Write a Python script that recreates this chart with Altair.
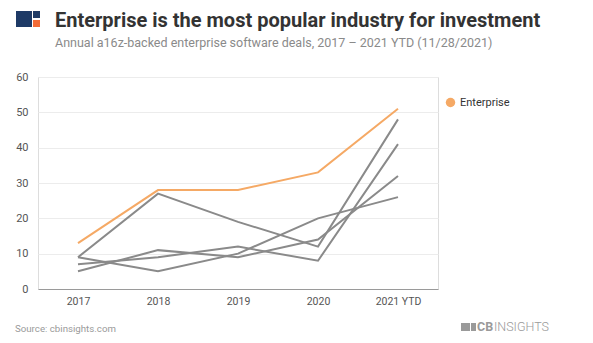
import altair as alt
import pandas as pd

years = ["2017", "2018", "2019", "2020", "2021 YTD"]
enterprise = [13, 28, 28, 33, 51]
other_a = [9, 27, 19, 12, 48]
other_b = [9, 5, 10, 20, 26]
other_c = [7, 9, 12, 8, 41]
other_d = [5, 11, 9, 14, 32]

series = {"Other A": other_a, "Other B": other_b, "Other C": other_c,
          "Other D": other_d, "Enterprise": enterprise}
rows = []
for name, vals in series.items():
    for y, v in zip(years, vals):
        rows.append({"year": y, "deals": v, "series": name})
df = pd.DataFrame(rows)

FONT = "Roboto"
ORANGE = "#f5a965"
GRAY = "#8a8a8a"

lines = alt.Chart(df).mark_line(strokeWidth=2).encode(
    x=alt.X("year:N", sort=years, title=None,
            scale=alt.Scale(type="point", padding=0.5),
            axis=alt.Axis(labelAngle=0, ticks=False, domainColor="#9a9a9a",
                          labelColor="#555", labelFont=FONT, labelFontSize=10.5,
                          labelPadding=7, grid=False)),
    y=alt.Y("deals:Q", title=None, scale=alt.Scale(domain=[0, 60]),
            axis=alt.Axis(values=[0, 10, 20, 30, 40, 50, 60], ticks=False, domain=False,
                          gridColor="#ececec", labelColor="#555", labelFont=FONT,
                          labelFontSize=11, labelPadding=10)),
    color=alt.Color("series:N",
                    scale=alt.Scale(domain=["Enterprise", "Other A", "Other B", "Other C", "Other D"],
                                    range=[ORANGE, GRAY, GRAY, GRAY, GRAY]),
                    legend=alt.Legend(values=["Enterprise"], title=None, orient="none",
                                      legendX=407, legendY=20, symbolType="circle",
                                      symbolSize=90, symbolStrokeWidth=0,
                                      symbolFillColor=ORANGE, symbolOpacity=1,
                                      labelFont=FONT, labelFontSize=11, labelColor="#333")),
    order=alt.Order("series:N", sort="descending"),
)

one = pd.DataFrame({"k": [0]})
title = alt.Chart(one).mark_text(align="left", baseline="alphabetic", font=FONT,
                                 fontSize=20, fontWeight="bold", color="#333").encode(
    x=alt.value(17), y=alt.value(-50),
    text=alt.value("Enterprise is the most popular industry for investment"))
subtitle = alt.Chart(one).mark_text(align="left", baseline="alphabetic", font=FONT,
                                    fontSize=12.5, color="#8a8a8a").encode(
    x=alt.value(17), y=alt.value(-30),
    text=alt.value("Annual a16z-backed enterprise software deals, 2017 – 2021 YTD (11/28/2021)"))
source = alt.Chart(one).mark_text(align="left", baseline="middle", font=FONT,
                                  fontSize=9.7, color="#9a9a9a").encode(
    x=alt.value(-23), y=alt.value(252), text=alt.value("Source: cbinsights.com"))
cb1 = alt.Chart(one).mark_text(align="left", baseline="middle", font=FONT,
                               fontSize=12.5, fontWeight="bold", color="#9a9a9a").encode(
    x=alt.value(439), y=alt.value(250), text=alt.value("CB"))
cb2 = alt.Chart(one).mark_text(align="left", baseline="middle", font=FONT,
                               fontSize=12.5, fontWeight=300, color="#9a9a9a").encode(
    x=alt.value(456), y=alt.value(250), text=alt.value("INSIGHTS"))
cbicon1 = alt.Chart(one).mark_rect(color="#9a9a9a").encode(
    x=alt.value(423), x2=alt.value(432), y=alt.value(246), y2=alt.value(254))
cbicon2 = alt.Chart(one).mark_rect(color="#9a9a9a").encode(
    x=alt.value(433), x2=alt.value(438), y=alt.value(246), y2=alt.value(254))

logo1 = alt.Chart(one).mark_rect(color="#1e3a66").encode(
    x=alt.value(-22), x2=alt.value(-6), y=alt.value(-66), y2=alt.value(-50))
logo2 = alt.Chart(one).mark_rect(color="#1e3a66").encode(
    x=alt.value(-5), x2=alt.value(2), y=alt.value(-66), y2=alt.value(-59))
logo3 = alt.Chart(one).mark_rect(color="#f26b38").encode(
    x=alt.value(-5), x2=alt.value(2), y=alt.value(-57), y2=alt.value(-50))

chart = alt.layer(lines, title, subtitle, source, cb1, cb2, cbicon1, cbicon2,
                  logo1, logo2, logo3).properties(
    width=400, height=212,
    autosize=alt.AutoSizeParams(type="none"),
    padding={"left": 38, "top": 77, "right": 155, "bottom": 54},
).configure_view(stroke=None).configure(background="white")

chart.save("out.html", embed_options={"renderer": "svg", "actions": False})
